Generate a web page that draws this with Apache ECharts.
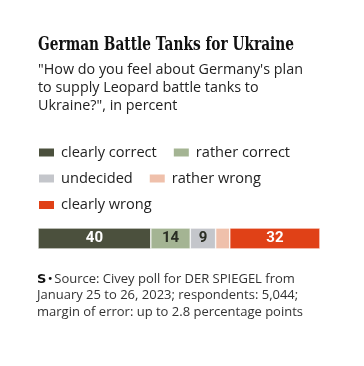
<!DOCTYPE html>
<html><head><meta charset="utf-8">
<script src="https://cdn.jsdelivr.net/npm/echarts@6/dist/echarts.min.js"></script>
<style>html,body{margin:0;padding:0;background:#fff}#c{width:364px;height:366px}</style>
</head><body><div id="c"></div>
<script>
var categories = ['Leopard'];
var seriesNames = ['clearly correct', 'rather correct', 'undecided', 'rather wrong', 'clearly wrong'];
var values = [40, 14, 9, 5, 32];
var labelsShown = ['40', '14', '9', '', '32'];
var colors = ['#4b503d', '#a4b493', '#c4c6cb', '#efc0ab', '#e04117'];
var labelColors = ['#ffffff', '#2a2e24', '#2a2e24', '#2a2e24', '#ffffff'];

var titleText = 'German Battle Tanks for Ukraine';
var subtitleLines = ['"How do you feel about Germany\'s plan', 'to supply Leopard battle tanks to', 'Ukraine?", in percent'];
var footerLines = ['Source: Civey poll for DER SPIEGEL from', 'January 25 to 26, 2023; respondents: 5,044;', 'margin of error: up to 2.8 percentage points'];

var ctx = document.createElement('canvas').getContext('2d');
function measure(font, txt) { ctx.font = font; return ctx.measureText(txt).width; }
var titleFont = 'bold 18.5px "DejaVu Serif"';
var titleScale = 256 / measure(titleFont, titleText);
var subFont = '15px "Open Sans"';
var subScale = Math.min(1, 265 / measure(subFont, subtitleLines[0]));

var chart = echarts.init(document.getElementById('c'), null, {renderer: 'canvas'});
var series = seriesNames.map(function (n, i) {
  return {
    name: n, type: 'bar', stack: 'total', barWidth: 21,
    data: [values[i]],
    itemStyle: {color: colors[i], borderColor: '#fff', borderWidth: 0.6},
    label: {show: labelsShown[i] !== '', formatter: labelsShown[i], position: 'inside',
      color: labelColors[i], fontFamily: 'Roboto', fontWeight: 'bold', fontSize: 15},
    emphasis: {disabled: true}, animation: false
  };
});
function legendRow(names, top) {
  return {
    data: names, top: top, left: 37, padding: 0, itemWidth: 17, itemHeight: 10, itemGap: 15,
    icon: 'rect', selectedMode: false,
    textStyle: {fontFamily: 'Open Sans', fontSize: 14.6, lineHeight: 20, color: '#222', padding: [0, 0, 0, 1]}
  };
}
chart.setOption({
  animation: false,
  grid: {left: 38, right: 44, top: 228, height: 21},
  xAxis: {type: 'value', min: 0, max: 100, show: false},
  yAxis: {type: 'category', data: categories, show: false},
  legend: [
    legendRow(seriesNames.slice(0, 2), 142.5),
    legendRow(seriesNames.slice(2, 4), 168.5),
    legendRow(seriesNames.slice(4, 5), 195)
  ],
  graphic: [
    {type: 'text', x: 38, y: 35.5, scaleX: titleScale, style: {text: titleText, font: titleFont, fill: '#111', textAlign: 'left', textVerticalAlign: 'top'}},
    {type: 'text', x: 38, y: 60.5, scaleX: subScale, style: {text: subtitleLines.join('\n'), font: subFont, lineHeight: 18, fill: '#222', textAlign: 'left', textVerticalAlign: 'top'}},
    {type: 'text', x: 37, y: 271, style: {
      text: '{logo|S}{dot|•}' + footerLines[0] + '\n' + footerLines[1] + '\n' + footerLines[2],
      font: '13px "Open Sans"', lineHeight: 16.5, fill: '#333', textAlign: 'left', textVerticalAlign: 'top',
      rich: {logo: {font: 'bold 13px "DejaVu Sans"', fill: '#111'}, dot: {font: '10px "DejaVu Sans"', fill: '#111', padding: [0, 1, 0, 1]}}
    }}
  ],
  series: series
});
</script></body></html>
